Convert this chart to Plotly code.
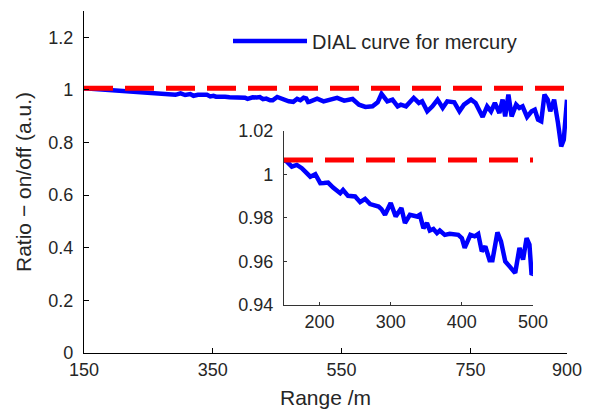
import plotly.graph_objects as go

# ---------------- data ----------------
range_m = [150, 154, 161, 168, 175, 180, 187, 194, 201, 206, 212, 219, 229, 233, 240,
           250, 257, 264, 271, 283, 287, 292, 300, 307, 315, 320, 327, 337, 341, 346,
           351, 355, 360, 365, 369, 376, 383, 395, 400, 404, 412, 418, 423, 428, 433,
           439, 443, 450, 455, 461, 468, 475, 481, 486, 491, 495, 498, 500,
           508, 512, 522, 530, 543, 554, 567, 577, 587, 598, 606, 612, 621, 629, 637,
           642, 650, 662, 670, 675, 683, 691, 699, 707, 714, 725, 733, 740, 751, 758,
           769, 776, 782, 788, 795, 800, 804, 809, 814, 821, 826, 831, 838, 845, 850,
           855, 860, 865, 870, 874, 880, 886, 891, 895, 898, 900]
ratio = [1.0065, 1.0058, 1.0035, 1.0043, 1.0028, 1.0010, 0.9989, 1.0000, 0.9959, 0.9960,
         0.9962, 0.9939, 0.9913, 0.9928, 0.9901, 0.9898, 0.9872, 0.9887, 0.9863, 0.9852,
         0.9840, 0.9814, 0.9868, 0.9806, 0.9845, 0.9776, 0.9814, 0.9806, 0.9814, 0.9753,
         0.9776, 0.9742, 0.9749, 0.9730, 0.9742, 0.9722, 0.9727, 0.9722, 0.9707, 0.9662,
         0.9722, 0.9715, 0.9726, 0.9646, 0.9669, 0.9605, 0.9605, 0.9733, 0.9692, 0.9600,
         0.9570, 0.9547, 0.9662, 0.9608, 0.9707, 0.9677, 0.9539, 0.9545,
         0.9610, 0.9669, 0.9566, 0.9631, 0.9696, 0.9593, 0.9657, 0.9440, 0.9353, 0.9376,
         0.9528, 0.9848, 0.9566, 0.9631, 0.9376,
         0.9440, 0.9376, 0.9696, 0.9505, 0.9566, 0.9185, 0.9376, 0.9631, 0.9315, 0.9566,
         0.9528, 0.9185, 0.9440, 0.9631, 0.9505, 0.8972, 0.9376, 0.9185, 0.9505, 0.9124,
         0.9631, 0.8995, 0.9821, 0.8995, 0.9440, 0.9315, 0.9376, 0.8972, 0.9185, 0.9250,
         0.8869, 0.8805, 0.9821, 0.9631, 0.9185, 0.9631, 0.8744, 0.7853, 0.8108, 0.8995,
         0.9631]

reference_level = 1.0065
main_range = [150, 900]
inset_range = [150, 500]

main_xticks = [150, 350, 550, 750, 900]
main_yticks = [0, 0.2, 0.4, 0.6, 0.8, 1, 1.2]
main_yticklabels = ["0", "0.2", "0.4", "0.6", "0.8", "1", "1.2"]
inset_xticks = [200, 300, 400, 500]
inset_yticks = [0.94, 0.96, 0.98, 1.0, 1.02]
inset_yticklabels = ["0.94", "0.96", "0.98", "1", "1.02"]

legend_label = "DIAL curve for mercury"
x_title = "Range /m"
y_title = "Ratio \u2212 on/off (a.u.)"

# ---------------- figure ----------------
W, H = 596, 409
ML, MR, MT, MB = 84, 29, 11, 56
PW, PH = W - ML - MR, H - MT - MB

def xdom(px0, px1):
    return [(px0 - ML) / PW, (px1 - ML) / PW]

def ydom(py_bottom, py_top):
    base = H - MB
    return [(base - py_bottom) / PH, (base - py_top) / PH]

FONT = "Arial, 'Liberation Sans', Helvetica, sans-serif"
TXT = "#262626"

inset_x = [x for x in range_m if inset_range[0] <= x <= inset_range[1]]
inset_y = [y for x, y in zip(range_m, ratio) if inset_range[0] <= x <= inset_range[1]]

fig = go.Figure()
fig.add_trace(go.Scatter(x=range_m, y=ratio, mode="lines", name=legend_label,
                         line=dict(color="#0000FF", width=4.5), xaxis="x", yaxis="y"))
fig.add_trace(go.Scatter(x=main_range, y=[reference_level] * 2, mode="lines", showlegend=False,
                         line=dict(color="#FF0000", width=5, dash="29px,12px"),
                         xaxis="x", yaxis="y"))
fig.add_trace(go.Scatter(x=inset_x, y=inset_y, mode="lines", showlegend=False,
                         line=dict(color="#0000FF", width=4.5), xaxis="x2", yaxis="y2"))
fig.add_trace(go.Scatter(x=inset_range, y=[reference_level] * 2, mode="lines", showlegend=False,
                         line=dict(color="#FF0000", width=5, dash="29px,12px"),
                         xaxis="x2", yaxis="y2"))

axis_common = dict(showgrid=False, zeroline=False, showline=True, ticks="inside",
                   tickfont=dict(family=FONT, size=18, color=TXT), mirror=False,
                   automargin=False)

fig.update_layout(
    width=W, height=H,
    margin=dict(l=ML, r=MR, t=MT, b=MB, pad=0, autoexpand=False),
    paper_bgcolor="white", plot_bgcolor="white",
    font=dict(family=FONT, color=TXT),
    xaxis=dict(axis_common, domain=[0, 1], range=main_range, tickvals=main_xticks,
               linecolor="black", linewidth=1.3, ticklen=5, tickcolor="black",
               ticklabelstandoff=0,
               title=dict(text=x_title, font=dict(family=FONT, size=21, color=TXT), standoff=14)),
    yaxis=dict(axis_common, domain=[0, 1], range=[0, 1.3], tickvals=main_yticks,
               ticktext=main_yticklabels,
               linecolor="black", linewidth=1.3, ticklen=5, tickcolor="black",
               ticklabelstandoff=6,
               title=dict(text=y_title, font=dict(family=FONT, size=21, color=TXT), standoff=10)),
    xaxis2=dict(axis_common, domain=xdom(284, 533), range=inset_range, tickvals=inset_xticks,
                anchor="y2", linecolor="#333333", linewidth=1.2, ticklen=3, tickcolor="#333333",
                ticklabelstandoff=0),
    yaxis2=dict(axis_common, domain=ydom(305, 130.7), range=[0.94, 1.02], tickvals=inset_yticks,
                ticktext=inset_yticklabels, anchor="x2",
                linecolor="#333333", linewidth=1.2, ticklen=3, tickcolor="#333333",
                ticklabelstandoff=6),
    showlegend=True,
    legend=dict(x=(228 - ML) / PW, y=(H - MB - 41) / PH, xanchor="left", yanchor="middle",
                bgcolor="rgba(0,0,0,0)", font=dict(family=FONT, size=20, color=TXT),
                itemwidth=74),
)

fig.write_html("out.html", config={"displayModeBar": False},
               post_script="document.body.style.margin='0';document.body.style.overflow='hidden';")
